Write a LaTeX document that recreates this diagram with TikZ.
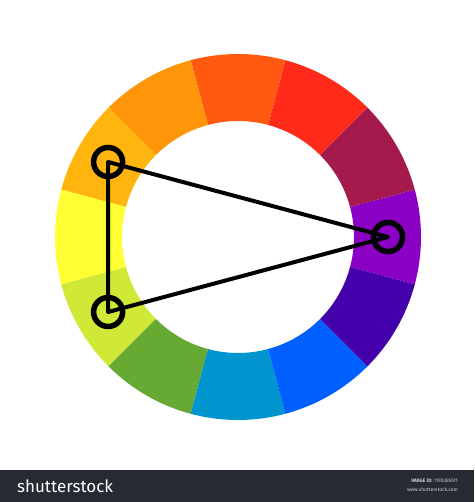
\documentclass[tikz,border=0pt]{standalone}
\usepackage{fontspec}
\setmainfont{Fira Sans}
\definecolor{s0}{HTML}{8A00C4}
\definecolor{s30}{HTML}{A51A4D}
\definecolor{s60}{HTML}{FF2A1A}
\definecolor{s90}{HTML}{FF5A0F}
\definecolor{s120}{HTML}{FF960A}
\definecolor{s150}{HTML}{FFB50E}
\definecolor{s180}{HTML}{FFFF33}
\definecolor{s210}{HTML}{D0E836}
\definecolor{s240}{HTML}{66AA33}
\definecolor{s270}{HTML}{0095CF}
\definecolor{s300}{HTML}{0060FF}
\definecolor{s330}{HTML}{4400AA}
\definecolor{footer}{HTML}{262A33}
\definecolor{footgray}{HTML}{C8CBD0}
\tikzset{
  ring/.style={circle, draw=black, line width=5.5pt, minimum size=29pt, inner sep=0pt},
  tri/.style={draw=black, line width=4pt, line join=round},
  footlogo/.style={anchor=west, text=white, font=\fontsize{17}{17}\selectfont, inner sep=0pt},
  footsmall/.style={anchor=east, text=footgray, font=\fontsize{5}{5}\selectfont, inner sep=0pt}
}
\begin{document}
\begin{tikzpicture}[x=1pt,y=1pt]
\useasboundingbox (0,0) rectangle (474,502);
\fill[white] (0,0) rectangle (474,502);
\begin{scope}[shift={(238,265)}]
  \foreach \a in {0,30,...,330}{
    \fill[s\a] (\a-15:183) arc[start angle=\a-15, end angle=\a+15, radius=183]
      -- (\a+15:116) arc[start angle=\a+15, end angle=\a-15, radius=116] -- cycle;
  }
  \node[ring] (A) at (150:150) {};
  \node[ring] (B) at (210:150) {};
  \node[ring] (C) at (0:150) {};
  \draw[tri] (A.center) -- (B.center) -- (C.center) -- cycle;
\end{scope}
\fill[footer] (0,0) rectangle (474,32);
\node[footlogo] (logo) at (17,16) {shutterstock};
\node[footsmall] (imgid) at (458,21) {\textbf{IMAGE ID:} 1190385511};
\node[footsmall] (url) at (458,12) {www.shutterstock.com};
\end{tikzpicture}
\end{document}
